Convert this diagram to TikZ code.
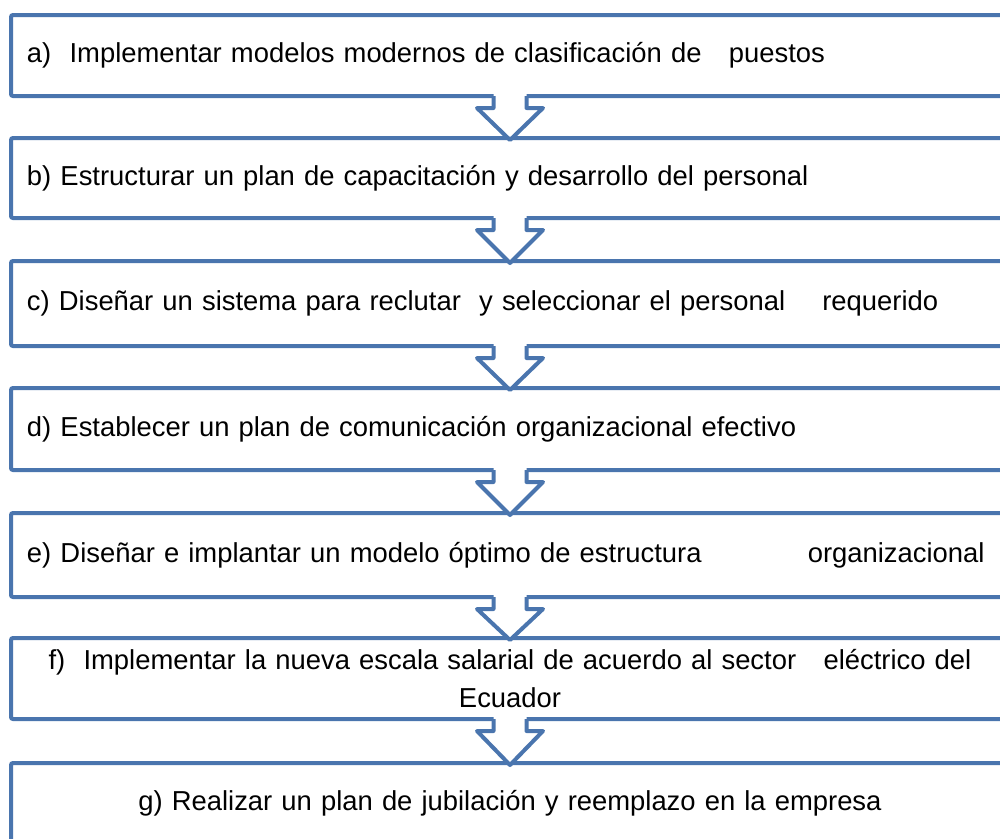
\documentclass[tikz,border=0pt]{standalone}
\usepackage{fontspec}
\setmainfont{Liberation Sans}
\usetikzlibrary{calc,positioning}
\definecolor{boxblue}{HTML}{4A75AE}
\tikzset{
  stepbox/.style={draw=boxblue, line width=4pt, rounded corners=2pt, fill=white, minimum width=998pt, minimum height=81pt, outer sep=0pt, inner xsep=16pt, text width=966pt, align=left, font=\fontsize{27.4}{38}\selectfont},
  centerbox/.style={stepbox, align=center},
  flecha/.style={draw=boxblue, line width=4pt, line join=round}
}
\newcommand{\bajada}[2]{%
  \fill[white] ($(#1.south)+(-16.5,-3)$) -- ($(#1.south)+(-16.5,12)$) -- ($(#1.south)+(-33,12)$) -- ($(#2.north)+(0,2)$) -- ($(#1.south)+(33,12)$) -- ($(#1.south)+(16.5,12)$) -- ($(#1.south)+(16.5,-3)$) -- cycle;
  \draw[flecha] ($(#1.south)+(-16.5,0)$) -- ++(0,12) -- ++(-16.5,0) -- ($(#2.north)+(0,2)$) -- ($(#1.south)+(33,12)$) -- ++(-16.5,0) -- ++(0,-12);
}

\begin{document}
\begin{tikzpicture}[x=1pt, y=-1pt]
  \useasboundingbox (0,0) rectangle (1000,838);
  \clip (0,0) rectangle (1000,838);
  \node[stepbox, anchor=north west] (pasoa) at (11,15) {a)~ Implementar modelos modernos de clasificación de~~ puestos};
  \node[stepbox, minimum height=80pt, below=42pt of pasoa] (pasob) {b) Estructurar un plan de capacitación y desarrollo del personal};
  \node[stepbox, minimum height=85pt, below=43pt of pasob] (pasoc) {c) Diseñar un sistema para reclutar~ y seleccionar el personal\hspace{28pt} requerido};
  \node[stepbox, minimum height=82pt, below=42pt of pasoc] (pasod) {d) Establecer un plan de comunicación organizacional efectivo};
  \node[stepbox, minimum height=84pt, below=43pt of pasod] (pasoe) {e) Diseñar e implantar un modelo óptimo de estructura\hspace{97pt} organizacional};
  \node[centerbox, below=41pt of pasoe] (pasof) {f)~ Implementar la nueva escala salarial de acuerdo al sector~~ eléctrico del\\Ecuador};
  \node[centerbox, minimum height=80pt, below=44pt of pasof] (pasog) {g) Realizar un plan de jubilación y reemplazo en la empresa};
  \bajada{pasoa}{pasob}
  \bajada{pasob}{pasoc}
  \bajada{pasoc}{pasod}
  \bajada{pasod}{pasoe}
  \bajada{pasoe}{pasof}
  \bajada{pasof}{pasog}
\end{tikzpicture}
\end{document}
